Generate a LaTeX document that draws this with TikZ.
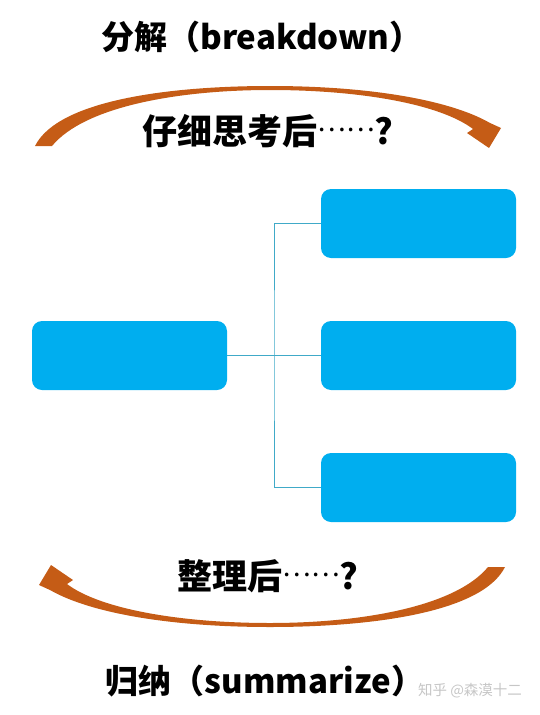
\documentclass[tikz,border=0pt]{standalone}
\usepackage{fontspec}
\newfontfamily\cjk{Noto Sans CJK SC}
\usepackage{tikz}
\definecolor{sky}{RGB}{0,174,239}
\definecolor{teal}{RGB}{64,170,200}
\definecolor{rust}{RGB}{197,92,22}
\newcommand{\dotrow}{\raisebox{13pt}{\mdseries\fontsize{27}{27}\selectfont……}}
\tikzset{
	box/.style={fill=sky, rounded corners=10pt, minimum width=195pt, minimum height=69pt, inner sep=0pt},
	link/.style={teal, line width=1pt},
	br/.style={rust},
	lbl/.style={font=\cjk\bfseries\fontsize{35}{35}\selectfont, inner sep=0pt},
	ttl/.style={font=\cjk\bfseries\fontsize{33}{33}\selectfont, inner sep=0pt},
}

\begin{document}
\begin{tikzpicture}[x=1pt,y=-1pt]
	\useasboundingbox (0,0) rectangle (540,715);

	\node[ttl] (top) at (262,37) {分解（breakdown）};
	\node[lbl] (think) at (268,131) {仔细思考后\dotrow?};
	\node[lbl] (sort) at (268,576) {整理后\dotrow?};
	\node[ttl] (bottom) at (265,681) {归纳（summarize）};
	\node[font=\cjk\fontsize{14.5}{14.5}\selectfont, gray!45, inner sep=0pt] (mark) at (470,691) {知乎 @森漠十二};

	\fill [br] (35,146) .. controls (58,100) and (170,86) .. (270,86)
		.. controls (370,86) and (450,100) .. (490,123) -- (501,128) -- (489,148)
		-- (467,133) -- (473,129) .. controls (440,104) and (360,90) .. (270,90)
		.. controls (180,90) and (85,106) .. (52,146) -- cycle;
	\fill [br, rotate around={180:(270,356.5)}] (35,146) .. controls (58,100) and (170,86) .. (270,86)
		.. controls (370,86) and (450,100) .. (490,123) -- (501,128) -- (489,148)
		-- (467,133) -- (473,129) .. controls (440,104) and (360,90) .. (270,90)
		.. controls (180,90) and (85,106) .. (52,146) -- cycle;

	\node[box] (root) at (129.5,355.5) {};
	\node[box] (sub1) at (418.5,223.5) {};
	\node[box] (sub2) at (418.5,355.5) {};
	\node[box] (sub3) at (418.5,487.5) {};
	\coordinate (fork) at (274,355.5);

	\draw [link] (root.east) -- (sub2.west);
	\draw [link] (sub1.west) -| (fork) |- (sub3.west);
\end{tikzpicture}
\end{document}
